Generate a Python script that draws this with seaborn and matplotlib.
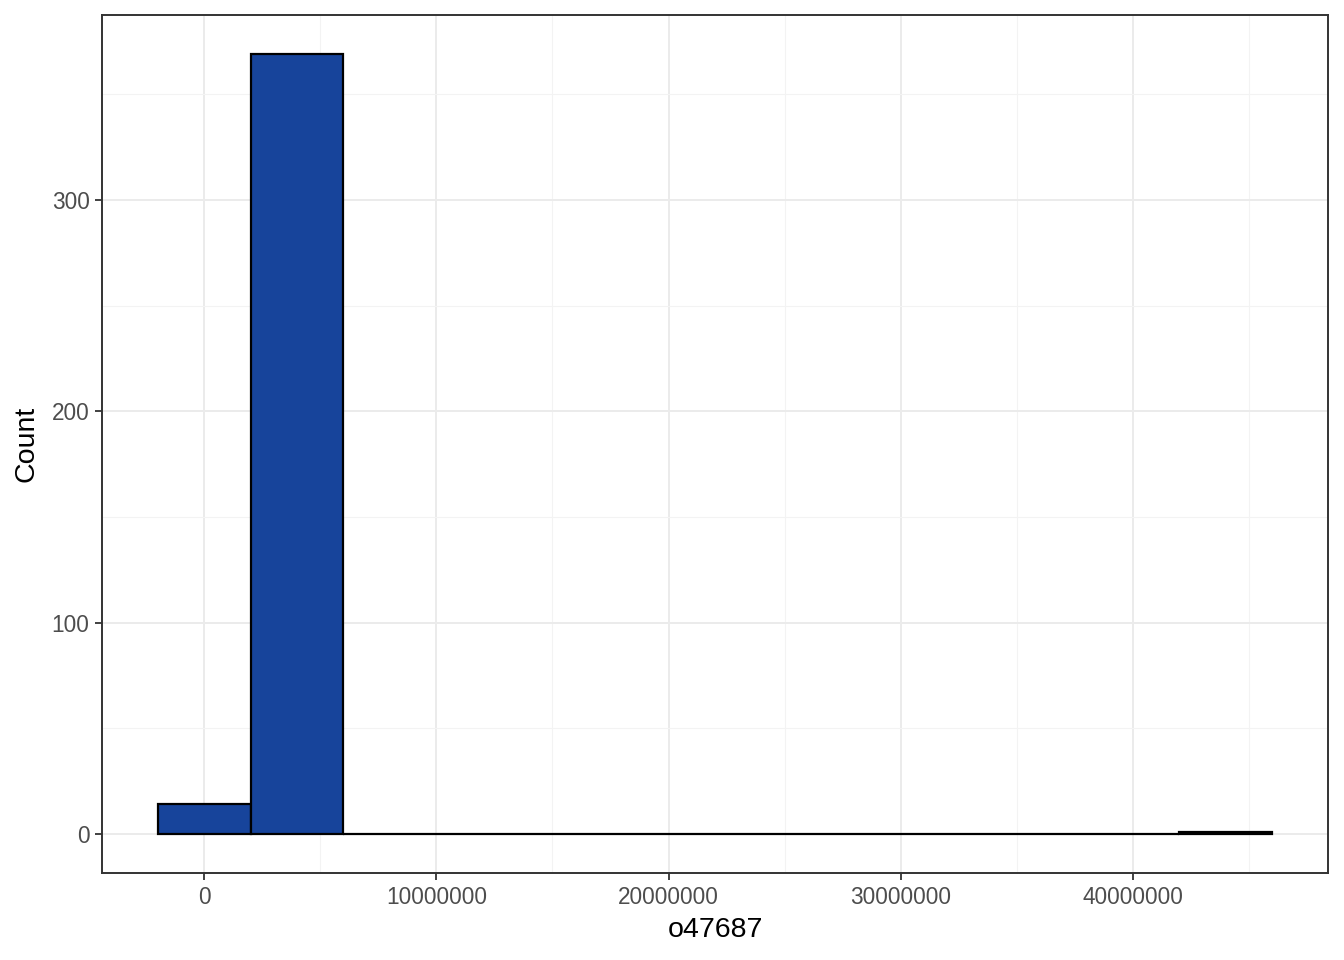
import numpy as np
import pandas as pd
import seaborn as sns
import matplotlib
matplotlib.use("Agg")
import matplotlib.pyplot as plt
from matplotlib.ticker import MultipleLocator, FuncFormatter

sns.set_style("white")
plt.rcParams['font.family'] = ['Liberation Sans', 'DejaVu Sans']

# histogram: bins of width 4e6 starting at -2e6
bin_start, bin_stop, bin_width = -2e6, 46e6, 4e6
counts = [14, 369, 0, 0, 0, 0, 0, 0, 0, 0, 0, 1]
bin_mids = bin_start + bin_width / 2 + bin_width * np.arange(len(counts))

df = pd.DataFrame({"o47687": bin_mids, "n": counts})

fig = plt.figure(figsize=(13.44, 9.6), dpi=100)
ax = fig.add_axes([102 / 1344, 1 - 873 / 960, (1328 - 102) / 1344, (873 - 15) / 960])

sns.histplot(data=df, x="o47687", weights="n", binwidth=bin_width,
             binrange=(bin_start, bin_stop), ax=ax,
             color="#17449b", alpha=1, edgecolor="black", linewidth=1.6)

span = bin_stop - bin_start
ax.set_xlim(bin_start - 0.05 * span, bin_stop + 0.05 * span)
ax.set_ylim(-0.05 * max(counts), 1.05 * max(counts))

ax.xaxis.set_major_locator(MultipleLocator(1e7))
ax.xaxis.set_minor_locator(MultipleLocator(5e6))
ax.yaxis.set_major_locator(MultipleLocator(100))
ax.yaxis.set_minor_locator(MultipleLocator(50))
ax.xaxis.set_major_formatter(FuncFormatter(lambda v, p: f"{int(round(v))}"))

ax.grid(which="major", color="#ebebeb", linewidth=1.4)
ax.grid(which="minor", color="#f3f3f3", linewidth=0.8)
ax.set_axisbelow(True)

for s in ax.spines.values():
    s.set_color("#333333")
    s.set_linewidth(1.4)

ax.tick_params(axis="both", which="major", length=5, width=1.3, color="#333333",
               labelsize=16.3, labelcolor="#4d4d4d", pad=4, bottom=True, left=True)
ax.tick_params(which="minor", length=0)

ax.set_xlabel("o47687", fontsize=20.5, color="black", labelpad=6)
ax.set_ylabel("Count", fontsize=20.5, color="black", labelpad=9)

fig.savefig("out.png", dpi=100)
